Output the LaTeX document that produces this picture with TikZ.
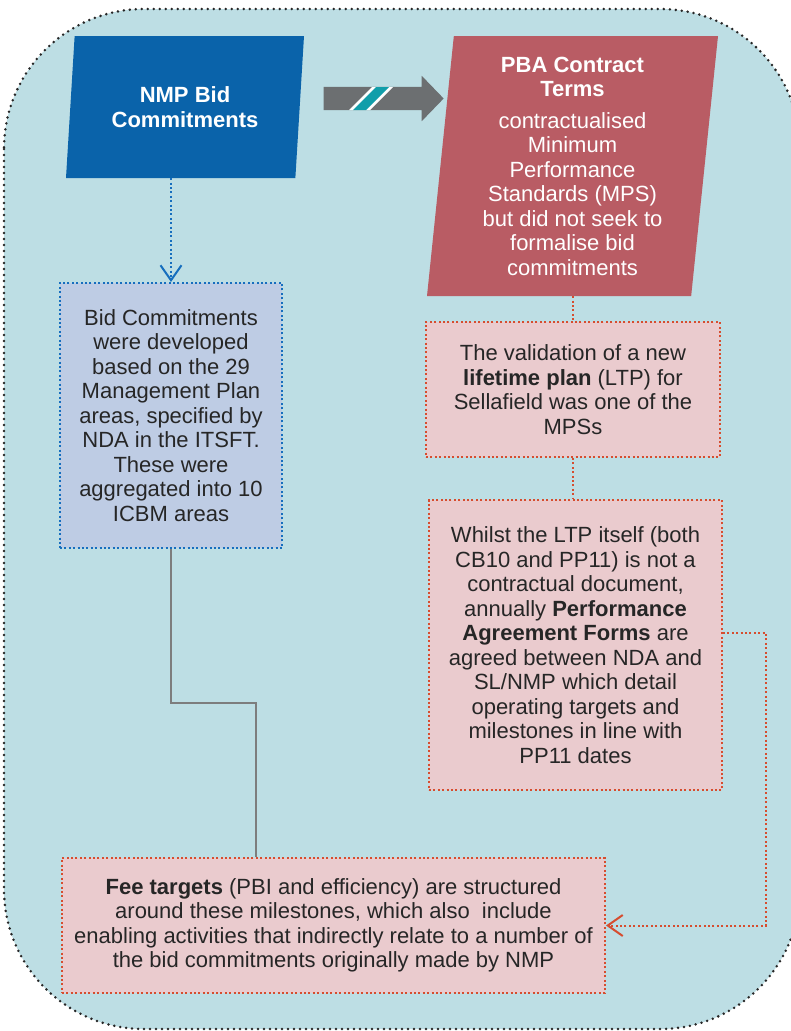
\documentclass[tikz,border=0pt]{standalone}
\usepackage{fontspec}
\setmainfont{Liberation Sans}
\usepackage{tikz}
\usetikzlibrary{arrows.meta}
\usetikzlibrary{shapes.geometric}
\usetikzlibrary{shapes.arrows}

\definecolor{panelblue}{RGB}{189,222,228}
\definecolor{nmpblue}{RGB}{10,99,170}
\definecolor{pbared}{RGB}{185,92,100}
\definecolor{pushgray}{RGB}{108,111,113}
\definecolor{stripeteal}{RGB}{17,158,170}
\definecolor{bidfill}{RGB}{190,204,228}
\definecolor{bidline}{RGB}{22,110,190}
\definecolor{mpsfill}{RGB}{234,203,206}
\definecolor{mpsline}{RGB}{214,77,47}
\definecolor{textgray}{RGB}{38,38,38}
\definecolor{linkgray}{RGB}{125,125,125}

\begin{document}
\begin{tikzpicture}[x=1pt, y=-1pt,
  txt/.style={font=\fontsize{22}{24.5}\selectfont, align=center, text=textgray},
  para/.style={trapezium, trapezium stretches body=true, inner sep=0pt,
    font=\fontsize{22}{24.5}\selectfont\bfseries, align=center, text=white},
  bidbox/.style={txt, rectangle, fill=bidfill, draw=bidline, line width=2pt,
    dash pattern=on 2pt off 2.4pt, inner sep=0pt},
  mpsbox/.style={txt, rectangle, fill=mpsfill, draw=mpsline, line width=2pt,
    dash pattern=on 2pt off 2.4pt, inner sep=0pt},
  barb/.style={-{Straight Barb[length=15pt, width=21pt, line width=2pt]}}]

\useasboundingbox (0,0) rectangle (791,1031);

% panel

\fill[panelblue, rounded corners=140] (4,9) rectangle (800,1029);
\draw[black!85, line width=2.8pt, line cap=round, dash pattern=on 0pt off 6pt,
  rounded corners=140] (4,9) rectangle (800,1029);


% top row

\node[para, fill=nmpblue, minimum width=238, minimum height=142,
  trapezium left angle=78, trapezium right angle=102] (bid) at (185,107)
  {NMP Bid\\Commitments};

\node[single arrow, fill=pushgray, inner sep=0pt, inner ysep=11.5pt,
  minimum height=120, single arrow head extend=11pt, single arrow tip angle=92]
  (push) at (378,98.5) {};
\fill[white] (349,110) -- (370,110) -- (393,87) -- (372,87) -- cycle;
\fill[stripeteal] (353,110) -- (366,110) -- (389,87) -- (376,87) -- cycle;

\node[para, fill=pbared, minimum width=291, minimum height=260,
  trapezium left angle=83, trapezium right angle=97] (pba) at (572.5,166)
  {PBA Contract\\Terms\\[7pt]
   \mdseries contractualised\\\mdseries Minimum\\\mdseries Performance\\
   \mdseries Standards (MPS)\\\mdseries but did not seek to\\
   \mdseries formalise bid\\\mdseries commitments};


% boxes

\node[bidbox, minimum width=222, minimum height=265] (commit) at (171,415.5)
  {Bid Commitments\\were developed\\based on the 29\\Management Plan\\
   areas, specified by\\NDA in the ITSFT.\\These were\\aggregated into 10\\ICBM areas};

\node[mpsbox, minimum width=294, minimum height=135] (ltp) at (573,389.5)
  {The validation of a new\\\textbf{lifetime plan} (LTP) for\\
   Sellafield was one of the\\MPSs};

\node[mpsbox, minimum width=293, minimum height=290] (paf) at (575.5,645)
  {Whilst the LTP itself (both\\CB10 and PP11) is not a\\contractual document,\\
   annually \textbf{Performance}\\\textbf{Agreement Forms} are\\
   agreed between NDA and\\SL/NMP which detail\\operating targets and\\
   milestones in line with\\PP11 dates};

\node[mpsbox, minimum width=543, minimum height=135] (fee) at (333.5,925.5)
  {\textbf{Fee targets} (PBI and efficiency) are structured\\
   around these milestones, which also\ \ include\\
   enabling activities that indirectly relate to a number of\\
   the bid commitments originally made by NMP};


% links

\coordinate (bend) at (256,703);
\coordinate (loop) at (766,633);

\draw[barb, draw=bidline, line width=2pt, dash pattern=on 2pt off 2.4pt]
  (bid.south -| commit.north) -- (commit.north);
\draw[draw=mpsline, line width=2pt, dash pattern=on 2pt off 2.4pt]
  (pba.south -| ltp.north) -- (ltp.north);
\draw[draw=mpsline, line width=2pt, dash pattern=on 2pt off 2.4pt]
  (ltp.south) -- (ltp.south |- paf.north);
\draw[barb, draw=mpsline, line width=2pt, dash pattern=on 2pt off 2.4pt]
  (paf.east |- loop) -- (loop) -- (loop |- fee.east) -- (fee.east);
\draw[linkgray, line width=1.5pt]
  (commit.south) |- (bend) -- (bend |- fee.north);

\end{tikzpicture}
\end{document}
